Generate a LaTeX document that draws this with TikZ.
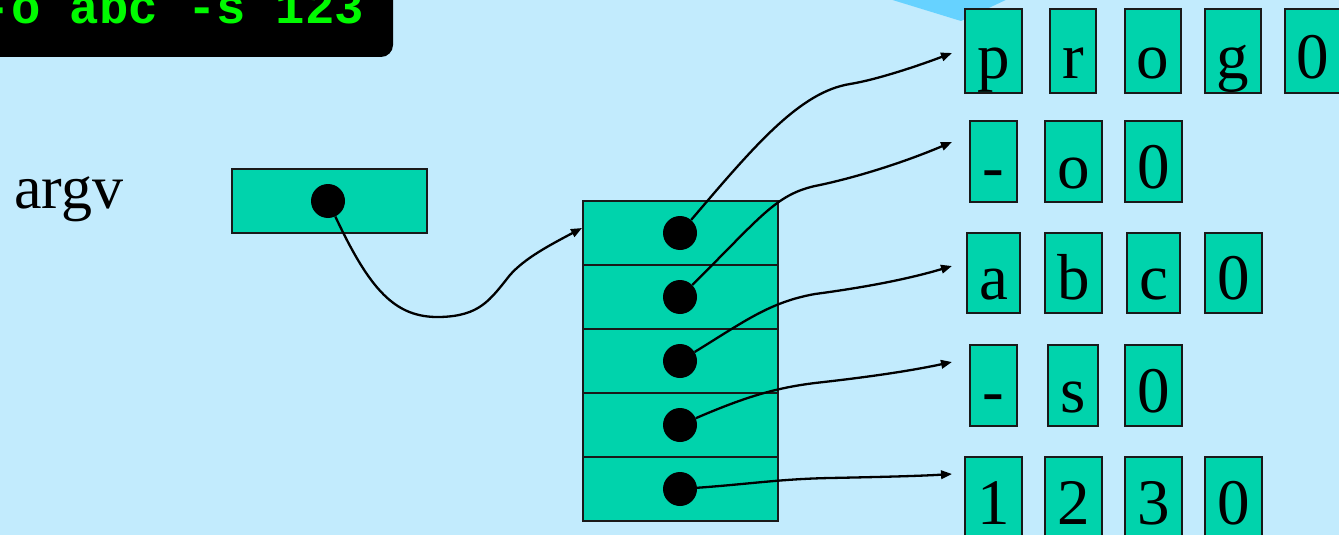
\documentclass[tikz,border=0pt]{standalone}
\usepackage{fontspec}
\setmainfont{Liberation Serif}
\newfontfamily\termfont{Liberation Mono}
\usetikzlibrary{arrows.meta}
\definecolor{bgblue}{RGB}{194,235,253}
\definecolor{tealfill}{RGB}{0,211,172}
\definecolor{wedgeblue}{RGB}{102,210,255}
\definecolor{termgreen}{RGB}{0,250,0}
\tikzset{
  cell/.style={draw=black!90, fill=tealfill, line width=2.4pt, inner sep=0pt, anchor=base,
    text height=67pt, text depth=14pt, font=\fontsize{65}{65}\selectfont},
  slot/.style={draw=black!90, fill=tealfill, line width=2.4pt, minimum width=195pt,
    minimum height=64pt, inner sep=0pt},
  dot/.style={circle, fill=black, minimum size=34pt, inner sep=0pt},
  ptr/.style={line width=2.3pt, -{Triangle[length=11pt,width=8.5pt]}}
}
\begin{document}
\begin{tikzpicture}[x=1pt,y=-1pt]
\clip (0,0) rectangle (1339,535);
\fill[bgblue] (0,0) rectangle (1339,535);
% callout wedge
\fill[wedgeblue] (860,-10) -- (961,21) -- (1027,-10) -- cycle;
% terminal
\fill[black, rounded corners=12pt] (-40,-40) rectangle (393,57);
\node[anchor=base west, inner sep=0pt, text=termgreen,
  font=\termfont\bfseries\fontsize{49}{49}\selectfont] (cmd) at (-18.5,24) {-o abc -s 123};
% argv
\node[anchor=base west, inner sep=0pt, font=\fontsize{62}{62}\selectfont] (argv) at (14,208) {argv};
\node[slot] (abox) at (329.5,201) {};
\node[dot] (a0) at (328,201) {};
% pointer array
\node[slot] (c1) at (680.5,233) {};
\node[slot] (c2) at (680.5,297) {};
\node[slot] (c3) at (680.5,361) {};
\node[slot] (c4) at (680.5,425) {};
\node[slot] (c5) at (680.5,489) {};
\node[dot] (d1) at (680,233) {};
\node[dot] (d2) at (680,297) {};
\node[dot] (d3) at (680,361) {};
\node[dot] (d4) at (680,425) {};
\node[dot] (d5) at (680,489) {};
% strings
\node[cell, text height=70pt, minimum width=57pt] (s1a) at (993.5,79) {p};
\node[cell, text height=70pt, minimum width=46pt] (s1b) at (1073,79) {r};
\node[cell, text height=70pt, minimum width=56pt] (s1c) at (1153,79) {o};
\node[cell, text height=70pt, minimum width=56pt] (s1d) at (1233,79) {g};
\node[cell, text height=70pt, minimum width=56pt] (s1e) at (1313,79) {0};
\node[cell, minimum width=47pt] (s2a) at (993.5,188) {-};
\node[cell, minimum width=57pt] (s2b) at (1073.5,188) {o};
\node[cell, minimum width=57pt] (s2c) at (1153.5,188) {0};
\node[cell, text height=66pt, minimum width=53pt] (s3a) at (993.5,299) {a};
\node[cell, text height=66pt, minimum width=57pt] (s3b) at (1073.5,299) {b};
\node[cell, text height=66pt, minimum width=53pt] (s3c) at (1153.5,299) {c};
\node[cell, text height=66pt, minimum width=57pt] (s3d) at (1233.5,299) {0};
\node[cell, minimum width=47pt] (s4a) at (993.5,412) {-};
\node[cell, minimum width=50pt] (s4b) at (1073,412) {s};
\node[cell, minimum width=57pt] (s4c) at (1153.5,412) {0};
\node[cell, minimum width=57pt] (s5a) at (993.5,524) {1};
\node[cell, minimum width=57pt] (s5b) at (1073.5,524) {2};
\node[cell, minimum width=57pt] (s5c) at (1153.5,524) {3};
\node[cell, minimum width=57pt] (s5d) at (1233.5,524) {0};
% arrow ends
\coordinate (e0) at (582,228);
\coordinate (e1) at (952,53);
\coordinate (e2) at (952,142);
\coordinate (e3) at (952,266);
\coordinate (e4) at (952,362);
\coordinate (e5) at (952,474);
% arrows
\draw[ptr] (a0) .. controls (370,290) and (395,318) .. (440,317)
  .. controls (480,316) and (490,300) .. (510,275)
  .. controls (525,258) and (550,245) .. (e0);
\draw[ptr] (d1) .. controls (755,145) and (800,92) .. (850,84)
  .. controls (875,80) and (915,67) .. (e1);
\draw[ptr] (d2) .. controls (760,218) and (775,195) .. (815,186)
  .. controls (855,178) and (905,162) .. (e2);
\draw[ptr] (d3) .. controls (745,321) and (770,302) .. (815,294)
  .. controls (860,288) and (905,280) .. (e3);
\draw[ptr] (d4) .. controls (745,397) and (775,388) .. (815,383)
  .. controls (860,378) and (905,372) .. (e4);
\draw[ptr] (d5) .. controls (750,484) and (780,479) .. (830,478)
  .. controls (880,477) and (920,476) .. (e5);
\end{tikzpicture}
\end{document}
